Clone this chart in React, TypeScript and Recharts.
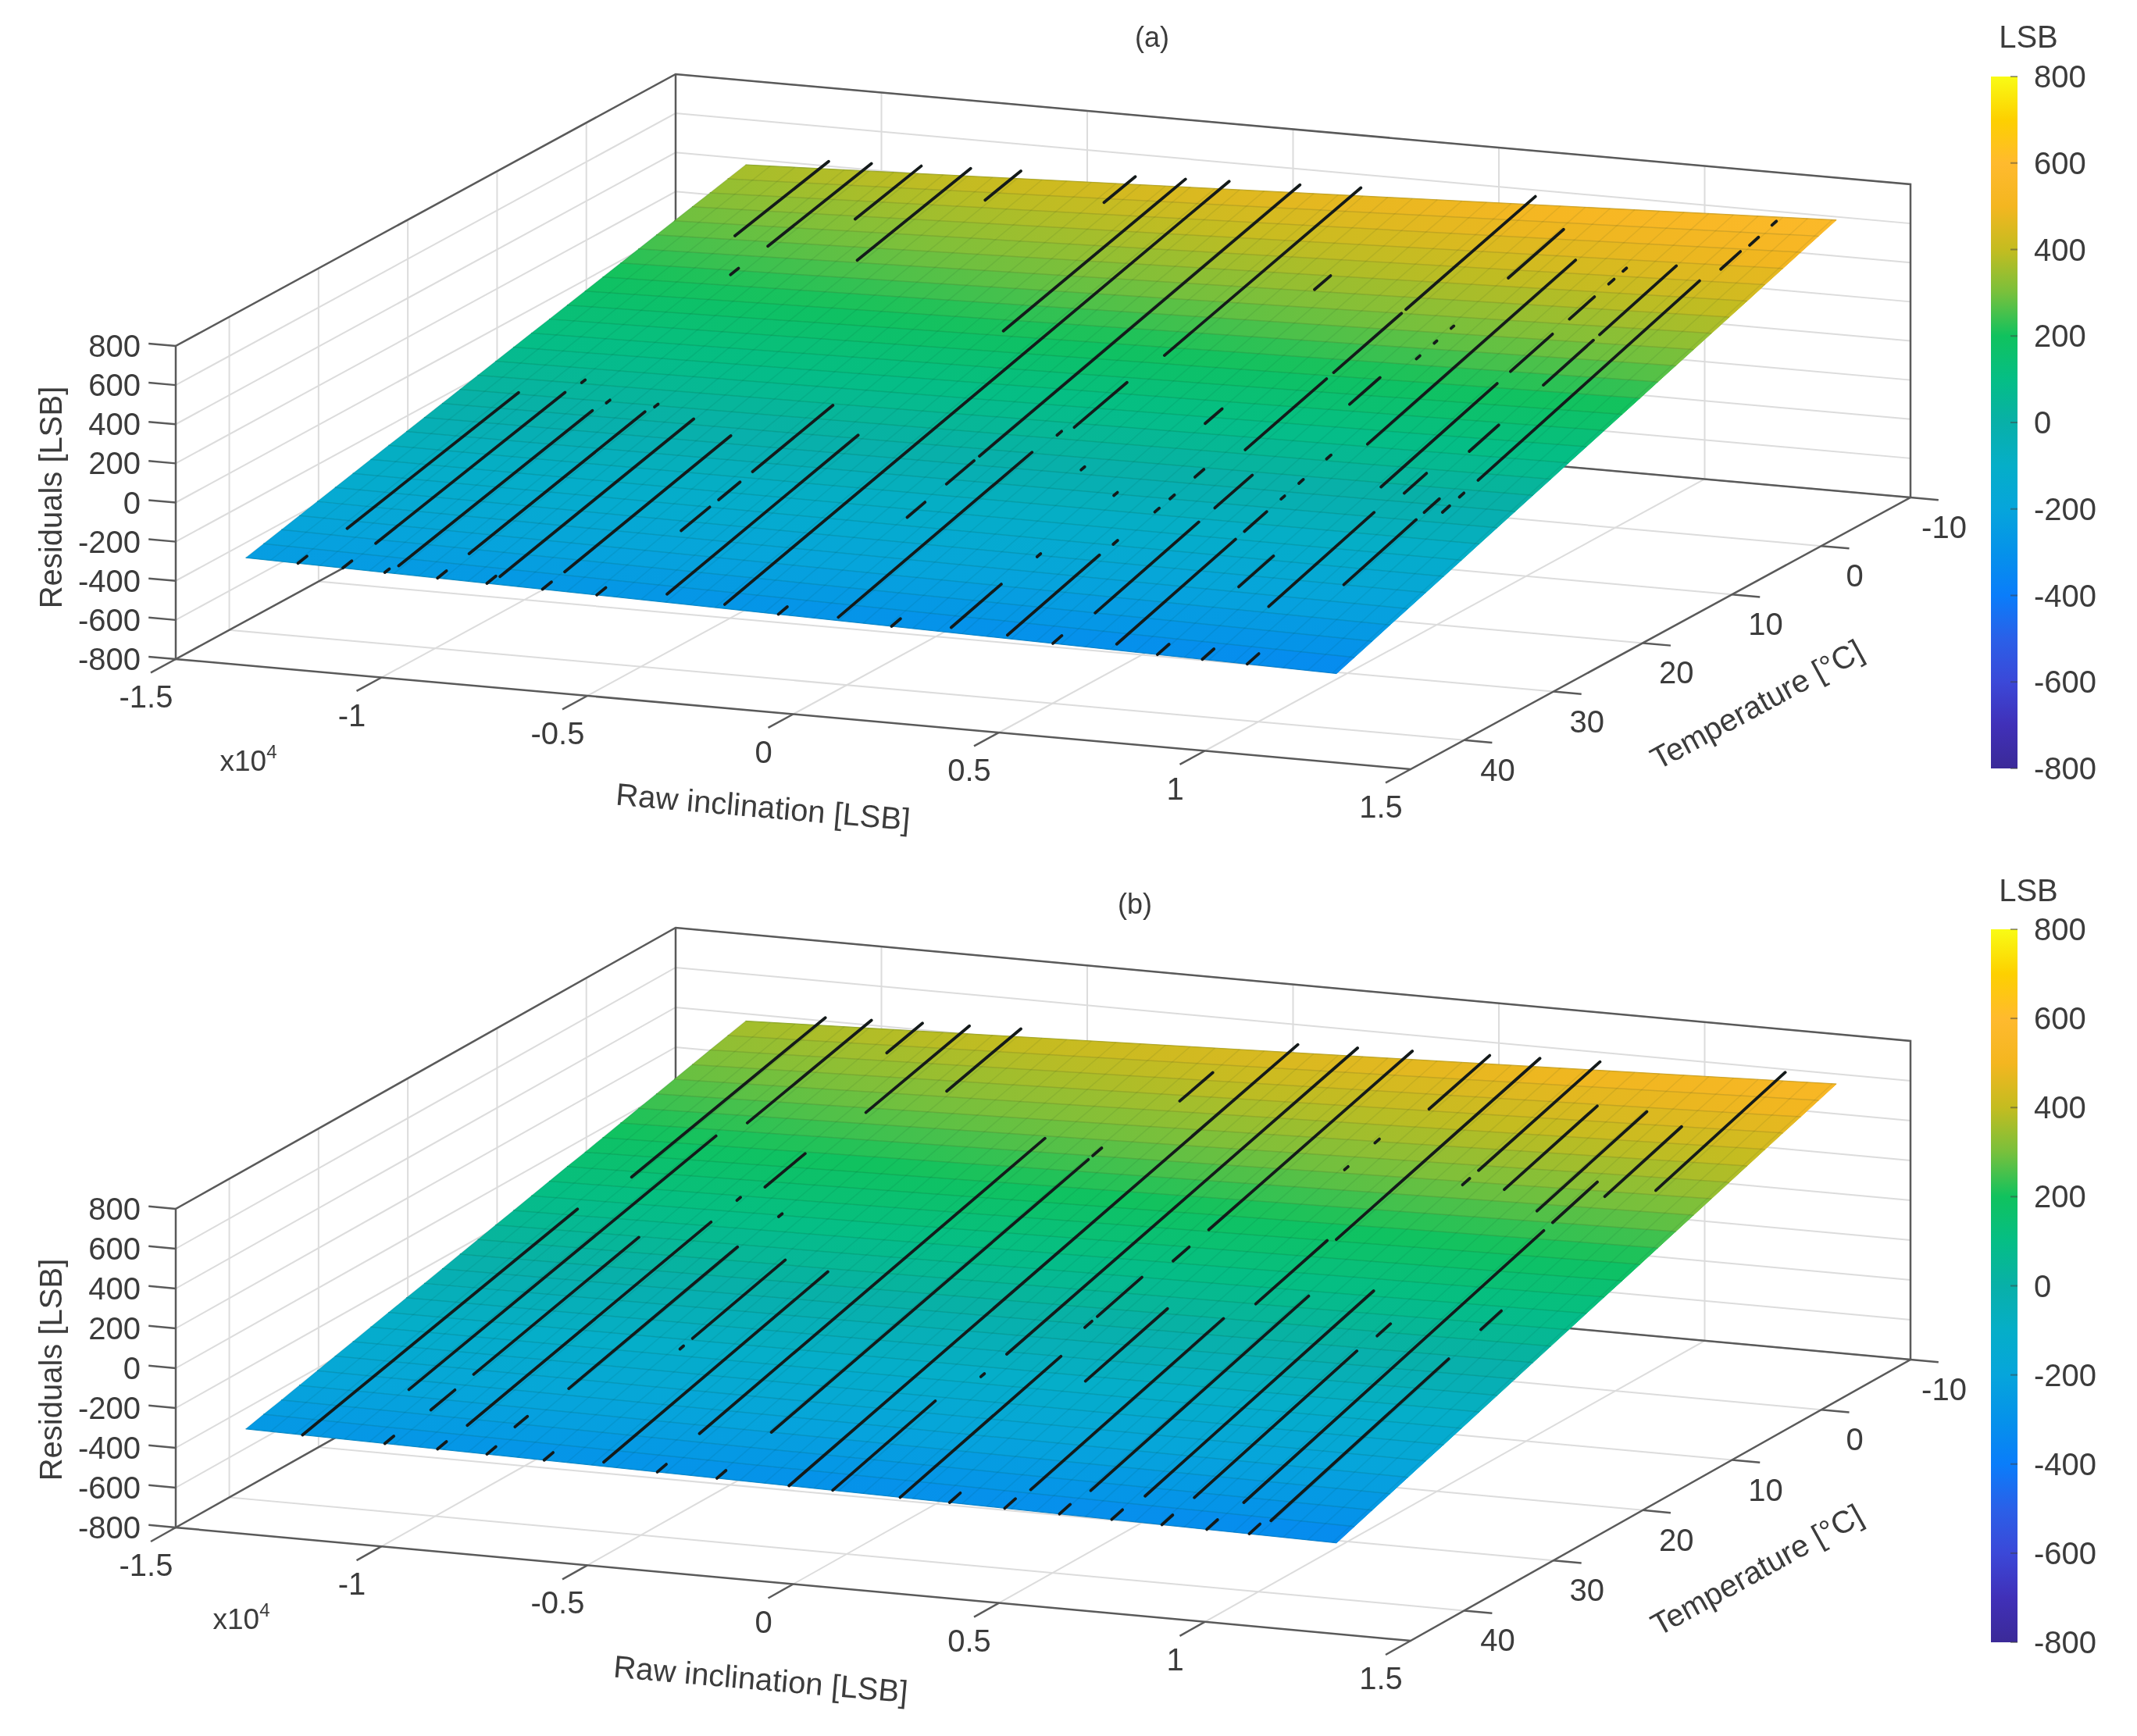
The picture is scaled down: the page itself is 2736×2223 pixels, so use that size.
import React from "react";
import { ScatterChart, Scatter, XAxis, YAxis, BarChart, Bar } from "recharts";

const xTicks = [-15000, -10000, -5000, 0, 5000, 10000, 15000];
const xTickLabels = ["-1.5", "-1", "-0.5", "0", "0.5", "1", "1.5"];
const tempTicks = [-10, 0, 10, 20, 30, 40];
const zTicks = [-800, -600, -400, -200, 0, 200, 400, 600, 800];

// surface rows (temperature) and residuals read along its left and right edge
const rowTemps = [46, 44, 42, 40, 38, 36, 34, 32, 30, 28, 26, 24, 22, 20, 18, 16, 14, 12, 10, 8, 6, 4, 2, 0, -2, -4, -6, -8, -10];
const zLeftA = [-250, -228, -206, -184, -161, -139, -117, -95, -73, -51, -29, -7, 15, 38, 60, 82, 104, 126, 148, 170, 192, 214, 237, 259, 281, 303, 325, 347, 369];
const zRightA = [-345, -312, -279, -245, -212, -179, -146, -113, -79, -46, -13, 20, 53, 87, 120, 153, 186, 219, 253, 286, 319, 352, 385, 418, 452, 485, 518, 551, 584];
const zLeftB = [-273, -250, -228, -205, -182, -159, -137, -114, -91, -68, -46, -23, 0, 23, 46, 68, 91, 114, 137, 159, 182, 205, 228, 250, 273, 296, 319, 341, 364];
const zRightB = [-343, -311, -279, -247, -215, -183, -152, -120, -88, -56, -24, 8, 40, 72, 104, 136, 167, 199, 231, 263, 295, 327, 359, 391, 423, 455, 486, 518, 550];
const meshX = [-13300, -12700, -12100, -11500, -10900, -10300, -9700, -9100, -8500, -7900, -7300, -6700, -6100, -5500, -4900, -4300, -3700, -3100, -2500, -1900, -1300, -700, -100, 500, 1100, 1700, 2300, 2900, 3500, 4100, 4700, 5300, 5900, 6500, 7100, 7700, 8300, 8900, 9500, 10100, 10700, 11300, 11900, 12500, 13100];

// black measurement tracks: [raw inclination, temperature from, temperature to]
const blackA = [
  [-11920, 41, 21.8], [-12030, 46, 45], [-10900, 42.5, 21.3], [-10940, 46, 45], [-9800, 45, 23.3], [-9920, 46, 45.5],
  [-8610, 42.6, 22.9], [-8640, 46, 45], [-7340, 45, 23.3], [-7440, 46, 45], [-6070, 43.6, 25], [-6090, 46, 45],
  [-4630, 37.2, 34], [-4630, 33, 30.6], [-4630, 29.2, 20.2], [-4770, 46, 45], [-3280, 45, 23.6], [-2830, 9.4, -11],
  [-1770, 45.5, -11], [-50, 33, 31], [-50, 28.6, 25.5], [-50, 24.9, -11], [-360, 46, 45], [1010, 45.6, 23.9],
  [1430, 11, -11], [3710, 45.4, 39.8], [5120, 45.6, 35.3], [6470, 42, 30.4], [6470, 28.6, 24.4], [6310, 46, 45],
  [7710, 45.3, 32], [7710, 31, 28.5], [8850, 46, 44.7], [9940, 46, 44.7], [11030, 46, 44.7], [2390, 46, 45],
  [8960, 37.4, 33.5], [10100, 39.3, 27.5], [11210, 36, 27.9], [11210, 27, 25.3], [5670, 21.5, 12.4], [5670, 11.6, 4],
  [5670, 3.5, -11], [8250, 19.7, -3.6], [9620, 24.5, 11.5], [9620, 10, 5.3], [9620, 3.4, 0.6], [9620, -1, -1.6],
  [9620, -2.6, -3], [11610, 22.8, -2], [10700, 19.6, 16.3], [10700, 11.3, 5.7], [10700, 5, -3.6], [7180, 9.3, 8.9],
  [7180, 7.3, 7], [7180, 5.4, 5.1], [7180, -1, -7.2], [1300, 20.5, 14.6], [4110, 18.8, 16.9], [6840, 15.2, 11.8],
  [3080, 1.8, 0], [-6830, -7, -11], [-4050, -7.5, -11], [-8050, 1.7, -11], [-11500, -0.5, -11], [-10460, 0.6, -11],
  [-9250, -3.6, -11], [-10500, 4.6, 3.7], [-10800, 19.9, 19.5], [-9700, 22.2, 21.8], [-8530, 22.2, 21.8],
  [5150, 33.9, 33.4], [3800, 36.2, 35.8], [1120, 21.6, 21.1], [2550, 25.5, 25.1], [3930, 28.2, 27.8], [5250, 29.7, 29.2],
  [5250, 28, 27.5], [5250, 25.2, 24.2], [7710, 24.9, 24.4], [7710, 26.9, 26.5], [7710, 21.8, 21.3], [11610, 24.9, 24.4],
  [11610, 26.8, 26], [10290, 25, 22.5], [11850, -6.5, -7.5], [11850, -9, -9.5], [11800, -3.5, -5.7],
];
const blackB = [
  [-11920, 46, 15.2], [-11580, 10.7, -11], [-10810, 39.2, 4.8], [-9800, 41.4, 38.7], [-9800, 36.6, 18.1], [-9920, 46, 45],
  [-8610, 42.8, 15.5], [-8610, 12.6, 12.2], [-8640, 46, 45], [-7540, 42.4, 41], [-7360, 37.2, 18.3], [-7440, 46, 45],
  [-7250, 14.2, 13.8], [-5960, 31.2, 30.8], [-5960, 29.8, 19.4], [-6050, 46, 45], [-4710, 45.5, 20.4], [-3360, 41, 2.3],
  [-3300, 46, 45], [-1830, 40, 4.5], [-1830, 4, 3], [-1850, 46, 45], [-100, 46, -11], [960, 46, 34.5], [1350, 31.2, 30.8],
  [1350, 28.3, -11], [2600, 46, 28], [2680, 15.8, 14], [2680, 11.8, -11], [3760, 30.6, 21.4], [4560, -4.2, -11],
  [5250, 43.6, 22], [5600, 20, 12], [5780, 11.8, -11], [6580, 43, 18.6], [7900, 43, 17.4], [9010, 42.6, 24.4],
  [10210, 42.6, 9], [10210, 8, 3], [11240, 44.3, 24.4], [11240, 20.8, 18.5], [9090, 22.5, 21], [8300, 4.6, -5.8],
  [9570, 6.8, -5.5], [10740, 4.6, -4], [11740, 3.5, -11], [7240, 2.6, -11], [7240, 4.4, 3.6], [-10460, 2.9, -11],
  [-9220, -7, -11], [-8080, 0.6, -11], [-8340, 10.7, 6.2], [-6830, -2.7, -11], [-1300, -3.3, -7], [4200, 3.6, 3.2],
  [4200, 0.2, -0.3], [2400, 24.4, 23.6], [2400, 23, 18], [3800, 46, 44.8], [5140, 46, 44.8], [6470, 46, 44.8],
  [7740, 46, 44.8], [8960, 46, 44.8], [10050, 46, 44.8], [11080, 46, 44.8],
];

// colour bar
const cmapValues = [-800, -700, -600, -500, -400, -300, -200, -100, 0, 100, 200, 300, 400, 500, 600, 700, 800];
const cmapColors = ["#3b2a98", "#4030b8", "#3b48d8", "#2a60e8", "#0a7dfa", "#0592ea", "#06a5db", "#05aec8", "#08b0a8", "#05be85", "#10c25e", "#78c03c", "#c4bc20", "#f4b620", "#ffba2e", "#fdd000", "#f9fb15"];

const FONT = "'Liberation Sans', Arial, sans-serif";
const TEXT = "#3c3c3c";
const WIDTH = 2736;
const HEIGHT = 2223;

const X_MIN = -13300;
const X_MAX = 13200;

const hexToRgb = (h: string) => [1, 3, 5].map((i) => parseInt(h.slice(i, i + 2), 16));

const colorAt = (z: number) => {
  let i = 0;
  while (i < cmapValues.length - 2 && z > cmapValues[i + 1]) i++;
  const f = Math.max(0, Math.min(1, (z - cmapValues[i]) / (cmapValues[i + 1] - cmapValues[i])));
  const a = hexToRgb(cmapColors[i]);
  const b = hexToRgb(cmapColors[i + 1]);
  return `rgb(${a.map((v, k) => Math.round(v + (b[k] - v) * f)).join(",")})`;
};

const noDot = () => <g />;

// one orthographic view of the box
const panelA = {
  id: "a", o: [225, 844], xv: [1581, 141], tv: [640, -348], zv: -401,
  zLeft: zLeftA, zRight: zRightA, black: blackA,
};
const panelB = {
  id: "b", o: [225, 1956], xv: [1581, 145], tv: [640, -360], zv: -408,
  zLeft: zLeftB, zRight: zRightB, black: blackB,
};

type Panel = typeof panelA;

const project = (p: Panel, x: number, t: number, z: number) => {
  const a = (x + 15000) / 30000;
  const b = (46 - t) / 56;
  const c = (z + 800) / 1600;
  return {
    px: p.o[0] + a * p.xv[0] + b * p.tv[0],
    py: p.o[1] + a * p.xv[1] + b * p.tv[1] + c * p.zv,
  };
};

// height of the surface under a point of a track or mesh line
const surfaceZ = (p: Panel, x: number, t: number) => {
  const pos = (46 - t) / 2;
  const i = Math.min(Math.floor(pos), rowTemps.length - 2);
  const f = pos - i;
  const left = p.zLeft[i] + (p.zLeft[i + 1] - p.zLeft[i]) * f;
  const right = p.zRight[i] + (p.zRight[i + 1] - p.zRight[i]) * f;
  return left + (right - left) * ((x - X_MIN) / (X_MAX - X_MIN));
};

const path = (key: string, data: any[], line: any) => (
  <Scatter key={key} data={data} line={line} shape={noDot} fill="none" isAnimationActive={false} />
);

const label = (key: string, pt: any, text: string, dx: number, dy: number, anchor = "middle") => (
  <Scatter
    key={key}
    data={[pt]}
    isAnimationActive={false}
    shape={(s: any) => (
      <text x={s.cx + dx} y={s.cy + dy} textAnchor={anchor} dominantBaseline="central" fontFamily={FONT} fontSize={40} fill={TEXT}>
        {text}
      </text>
    )}
  />
);

const GRID = { stroke: "#dcdcdc", strokeWidth: 2 };
const BOX = { stroke: "#5a5a5a", strokeWidth: 2.5 };
const MESH = { stroke: "#003020", strokeOpacity: 0.14, strokeWidth: 1.5 };
const TRACK = { stroke: "#141a1a", strokeWidth: 3.8, strokeLinecap: "round" };

const panelSeries = (p: Panel) => {
  const out: React.ReactNode[] = [];
  const k = p.id;
  const P = (x: number, t: number, z: number) => project(p, x, t, z);

  // walls and floor
  zTicks.forEach((z) => {
    out.push(path(`${k}gz${z}`, [P(-15000, 46, z), P(-15000, -10, z), P(15000, -10, z)], GRID));
  });
  tempTicks.forEach((t) => {
    out.push(path(`${k}gt${t}`, [P(15000, t, -800), P(-15000, t, -800), P(-15000, t, 800)], GRID));
  });
  xTicks.forEach((x) => {
    out.push(path(`${k}gx${x}`, [P(x, 46, -800), P(x, -10, -800), P(x, -10, 800)], GRID));
  });

  // box outline
  out.push(path(`${k}b1`, [P(-15000, 46, -800), P(-15000, 46, 800), P(-15000, -10, 800), P(15000, -10, 800), P(15000, -10, -800), P(15000, 46, -800), P(-15000, 46, -800), P(-15000, -10, -800), P(15000, -10, -800)], BOX));
  out.push(path(`${k}b2`, [P(-15000, -10, 800), P(-15000, -10, -800)], BOX));

  // axis ticks
  xTicks.forEach((x) => out.push(path(`${k}tx${x}`, [P(x, 46, -800), P(x, 48.8, -800)], BOX)));
  tempTicks.forEach((t) => out.push(path(`${k}tt${t}`, [P(15000, t, -800), P(15680, t, -800)], BOX)));
  zTicks.forEach((z) => out.push(path(`${k}tz${z}`, [P(-15000, 46, z), P(-15660, 46, z)], BOX)));

  // surface strips, shaded from left edge to right edge
  rowTemps.slice(0, -1).forEach((t, i) => {
    const next = rowTemps[i + 1];
    out.push(
      path(
        `${k}s${i}`,
        [P(X_MIN, t, p.zLeft[i]), P(X_MAX, t, p.zRight[i]), P(X_MAX, next, p.zRight[i + 1]), P(X_MIN, next, p.zLeft[i + 1])],
        { fill: `url(#${k}strip${i})`, stroke: `url(#${k}strip${i})`, strokeWidth: 1 }
      )
    );
  });

  // mesh
  rowTemps.forEach((t, i) => {
    out.push(path(`${k}mr${i}`, [P(X_MIN, t, p.zLeft[i]), P(X_MAX, t, p.zRight[i])], MESH));
  });
  meshX.forEach((x) => {
    out.push(path(`${k}mc${x}`, [P(x, 46, surfaceZ(p, x, 46)), P(x, -10, surfaceZ(p, x, -10))], { ...MESH, strokeOpacity: 0.08 }));
  });

  // tracks
  p.black.forEach(([x, t0, t1], i) => {
    out.push(path(`${k}k${i}`, [P(x, t0, surfaceZ(p, x, t0)), P(x, t1, surfaceZ(p, x, t1))], TRACK));
  });

  // tick labels
  xTicks.forEach((x, i) => out.push(label(`${k}lx${x}`, P(x, 46, -800), xTickLabels[i], -38, 48)));
  tempTicks.forEach((t) => out.push(label(`${k}lt${t}`, P(15000, t, -800), String(t), 43, 38)));
  zTicks.forEach((z) => out.push(label(`${k}lz${z}`, P(-15000, 46, z), String(z), -45, 0, "end")));
  return out;
};

const stripGradients = (p: Panel) =>
  rowTemps.slice(0, -1).map((_, i) => {
    const zl = (p.zLeft[i] + p.zLeft[i + 1]) / 2;
    const zr = (p.zRight[i] + p.zRight[i + 1]) / 2;
    return (
      <linearGradient key={i} id={`${p.id}strip${i}`} x1="0" y1="0" x2="1" y2="0">
        {[0, 0.25, 0.5, 0.75, 1].map((f) => (
          <stop key={f} offset={f} stopColor={colorAt(zl + (zr - zl) * f)} />
        ))}
      </linearGradient>
    );
  });

const txt = { fontFamily: FONT, fill: TEXT, fontSize: 40 };

const colorBarData = [{ name: "LSB", range: [-800, 800] }];

const ColorBar: React.FC<{ id: string; top: number; height: number }> = ({ id, top, height }) => (
  <div style={{ position: "absolute", left: 2549, top: top - 30 }}>
    <BarChart width={187} height={height + 60} data={colorBarData} margin={{ top: 30, right: 0, bottom: 30, left: 0 }} barCategoryGap={0}>
      <defs>
        <linearGradient id={id} x1="0" y1="0" x2="0" y2="1">
          {cmapValues
            .map((v, i) => ({ v, c: cmapColors[i] }))
            .reverse()
            .map(({ v, c }) => (
              <stop key={v} offset={(800 - v) / 1600} stopColor={c} />
            ))}
        </linearGradient>
      </defs>
      <XAxis dataKey="name" hide />
      <Bar dataKey="range" fill={`url(#${id})`} isAnimationActive={false} />
      <YAxis
        orientation="right"
        width={153}
        domain={[-800, 800]}
        ticks={zTicks}
        interval={0}
        axisLine={false}
        tickLine={false}
        tickSize={0}
        tickMargin={0}
        tick={(t: any) => (
          <g>
            <line x1={t.x - 9} x2={t.x} y1={t.y} y2={t.y} stroke="#40404080" strokeWidth={2} />
            <text x={t.x + 21} y={t.y} dominantBaseline="central" {...txt}>
              {t.payload.value}
            </text>
          </g>
        )}
      />
    </BarChart>
  </div>
);

export default function App() {
  return (
    <div style={{ position: "absolute", left: 0, top: 0, width: WIDTH, height: HEIGHT, background: "#fff", filter: "blur(0.7px)" }}>
      <ScatterChart width={WIDTH} height={HEIGHT} margin={{ top: 0, right: 0, bottom: 0, left: 0 }}>
        <defs>
          {stripGradients(panelA)}
          {stripGradients(panelB)}
        </defs>
        <XAxis type="number" dataKey="px" domain={[0, WIDTH]} hide allowDataOverflow />
        <YAxis type="number" dataKey="py" domain={[0, HEIGHT]} reversed hide allowDataOverflow />
        {panelSeries(panelA)}
        {panelSeries(panelB)}

        <text x={1475} y={47} textAnchor="middle" dominantBaseline="central" {...txt} fontSize={36}>(a)</text>
        <text x={1453} y={1157} textAnchor="middle" dominantBaseline="central" {...txt} fontSize={36}>(b)</text>
        <text x={2597} y={47} textAnchor="middle" dominantBaseline="central" {...txt}>LSB</text>
        <text x={2597} y={1140} textAnchor="middle" dominantBaseline="central" {...txt}>LSB</text>

        <text x={65} y={637} textAnchor="middle" dominantBaseline="central" transform="rotate(-90 65 637)" {...txt}>Residuals [LSB]</text>
        <text x={65} y={1754} textAnchor="middle" dominantBaseline="central" transform="rotate(-90 65 1754)" {...txt}>Residuals [LSB]</text>
        <text x={977} y={1033} textAnchor="middle" dominantBaseline="central" transform="rotate(5 977 1033)" {...txt}>Raw inclination [LSB]</text>
        <text x={974} y={2150} textAnchor="middle" dominantBaseline="central" transform="rotate(5 974 2150)" {...txt}>Raw inclination [LSB]</text>
        <text x={2249} y={902} textAnchor="middle" dominantBaseline="central" transform="rotate(-28.5 2249 902)" {...txt}>Temperature [°C]</text>
        <text x={2249} y={2010} textAnchor="middle" dominantBaseline="central" transform="rotate(-29 2249 2010)" {...txt}>Temperature [°C]</text>
        <text x={318} y={974} textAnchor="middle" dominantBaseline="central" {...txt} fontSize={37}>
          x10<tspan dy={-12} fontSize={24}>4</tspan>
        </text>
        <text x={309} y={2073} textAnchor="middle" dominantBaseline="central" {...txt} fontSize={37}>
          x10<tspan dy={-12} fontSize={24}>4</tspan>
        </text>
      </ScatterChart>
      <ColorBar id="cbA" top={98} height={886} />
      <ColorBar id="cbB" top={1190} height={913} />
    </div>
  );
}
